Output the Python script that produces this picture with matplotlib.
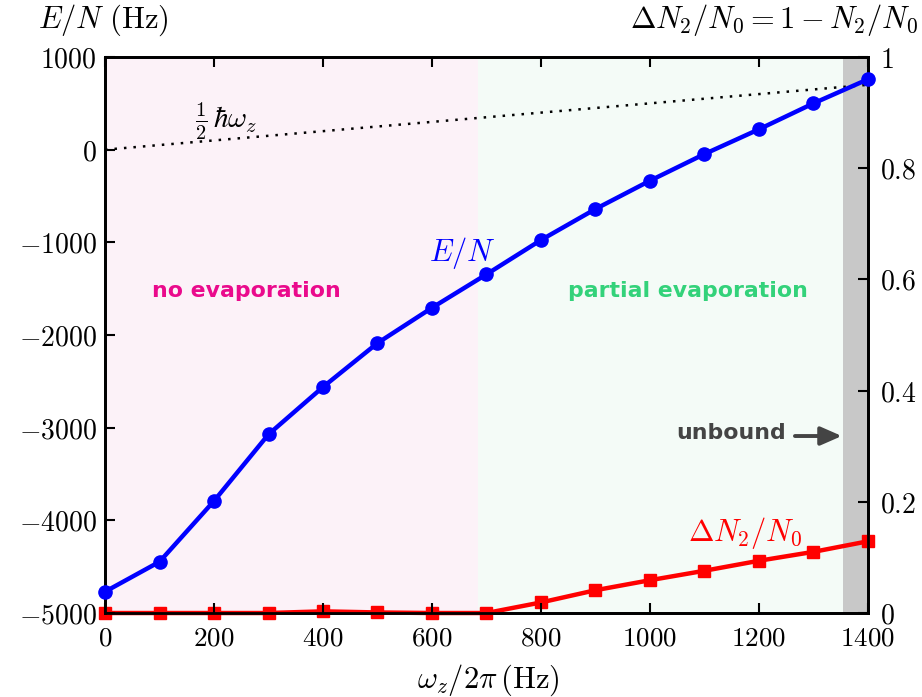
import matplotlib
matplotlib.use("Agg")
import matplotlib.pyplot as plt

plt.rcParams['mathtext.fontset'] = 'cm'
plt.rcParams['font.family'] = ['DejaVu Serif']

# data
omega = [0, 100, 200, 300, 400, 500, 600, 700, 800, 900, 1000, 1100, 1200, 1300, 1400]
energy = [-4770, -4447, -3791, -3072, -2561, -2087, -1706, -1345, -975, -640, -335, -47, 220, 500, 760]
dN2 = [0.0, 0.0, 0.0, 0.0, 0.003, 0.001, 0.0, 0.0, 0.019, 0.041, 0.059, 0.076, 0.094, 0.110, 0.129]
zp_x = [0, 1400]
zp_y = [0, 700]
no_evap = [0, 684]
partial = [684, 1354]
unbound = [1354, 1400]
xticks = [0, 200, 400, 600, 800, 1000, 1200, 1400]
yticks_l = [-5000, -4000, -3000, -2000, -1000, 0, 1000]
yticks_r = [0, 0.2, 0.4, 0.6, 0.8, 1]
yticks_r_lab = ['0', '0.2', '0.4', '0.6', '0.8', '1']

fig = plt.figure(figsize=(9.22, 6.97), dpi=100)
ax = fig.add_axes([0.1139, 0.1205, 0.8275, 0.7977])
ax.set_xlim(0, 1400)
ax.set_ylim(-5000, 1000)
ax2 = ax.twinx()
ax2.set_ylim(0, 1)

ax2.axvspan(*no_evap, color='#fcf2f8', lw=0, zorder=0)
ax2.axvspan(*partial, color='#f4fbf7', lw=0, zorder=0)
ax2.axvspan(*unbound, color='#c8c8c8', lw=0, zorder=0)
ax2.plot(omega, dN2, color='#ff0000', lw=3.2, marker='s', ms=9, zorder=3, clip_on=False)

ax.set_zorder(ax2.get_zorder() + 1)
ax.patch.set_visible(False)
ax.plot(zp_x, zp_y, ls=(0, (1, 2.8)), color='black', lw=1.8, zorder=2)
ax.plot(omega, energy, color='#0000ff', lw=3.2, marker='o', ms=9.5, zorder=4, clip_on=False)

fs = 20
ax.set_xticks(xticks)
ax.set_xticklabels([f'${v}$' for v in xticks], fontsize=19.5)
ax.set_yticks(yticks_l)
ax.set_yticklabels([f'${v}$' if v >= 0 else f'$-{-v}$' for v in yticks_l], fontsize=fs)
ax2.set_yticks(yticks_r)
ax2.set_yticklabels([f'${v}$' for v in yticks_r_lab], fontsize=fs)

ax.tick_params(axis='x', direction='in', top=True, length=7, width=1.5, pad=8)
ax.tick_params(axis='y', direction='in', length=7, width=1.5, pad=6)
ax2.tick_params(axis='y', direction='in', length=7, width=1.5, pad=9)
for a in (ax, ax2):
    for s in a.spines.values():
        s.set_linewidth(2)

lfs = 22
fig.text(488/922, 1 - 680/697, r'$\omega_z/2\pi\,(\mathrm{Hz})$', fontsize=lfs, ha='center', va='center')
fig.text(38/922, 1 - 20/697, r'$E/N\ (\mathrm{Hz})$', fontsize=lfs, ha='left', va='center')
fig.text(918/922, 1 - 20/697, r'$\Delta N_2/N_0 = 1 - N_2/N_0$', fontsize=lfs, ha='right', va='center')

ax.text(222, 300, r'$\frac{1}{2}\,\hbar\omega_z$', fontsize=21, ha='center', va='center')
ax.text(655, -1110, r'$E/N$', fontsize=22, ha='center', va='center', color='#0000ff')
ax2.text(1175, 0.144, r'$\Delta N_2/N_0$', fontsize=22, ha='center', va='center', color='#ff0000')

ax.text(260, -1520, 'no evaporation', fontsize=15.8, fontweight='bold', color='#ea0a8c',
        ha='center', va='center', family='DejaVu Sans')
ax.text(1070, -1520, 'partial evaporation', fontsize=15.8, fontweight='bold', color='#33d27a',
        ha='center', va='center', family='DejaVu Sans')
ax.text(1149, -3060, 'unbound', fontsize=15.8, fontweight='bold', color='#444444',
        ha='center', va='center', family='DejaVu Sans')
ax.annotate('', xy=(1352, -3090), xytext=(1266, -3090),
            arrowprops=dict(arrowstyle='-|>,head_length=0.8,head_width=0.35', color='#444444',
                            lw=2.8, mutation_scale=16, shrinkA=0, shrinkB=0))

fig.savefig('out.png', dpi=100)
